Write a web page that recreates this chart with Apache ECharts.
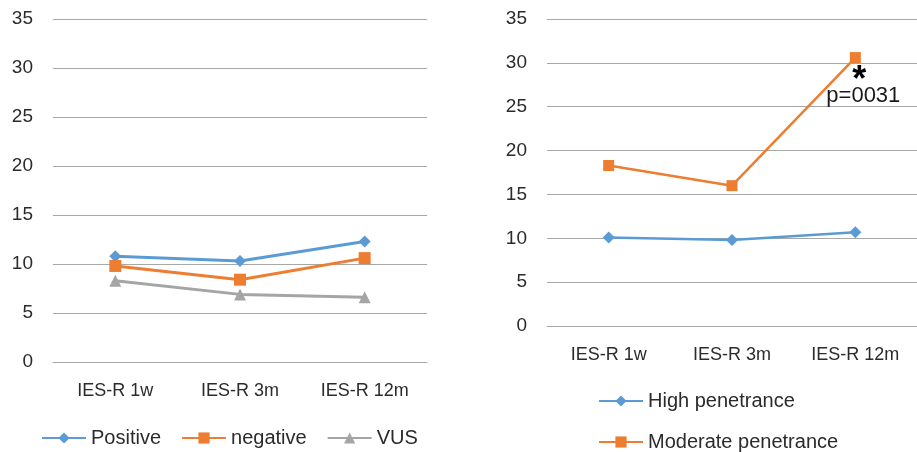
<!DOCTYPE html>
<html><head><meta charset="utf-8">
<script src="https://cdn.jsdelivr.net/npm/echarts@6/dist/echarts.min.js"></script>
<style>html,body{margin:0;padding:0;background:#fff}#c{width:917px;height:452px}</style>
</head><body><div id="c"></div>
<script>
const categories = ['IES-R 1w', 'IES-R 3m', 'IES-R 12m'];
const positive = [10.8, 10.3, 12.3];
const negative = [9.8, 8.4, 10.6];
const vus = [8.3, 6.9, 6.6];
const highPen = [10.1, 9.8, 10.7];
const moderatePen = [18.3, 16.0, 30.6];
const annotationText = 'p=0031';

const FONT = 'Liberation Sans, Arial, sans-serif';
const TXT = '#2b2b2b';
const GRID = '#a8a8a8';
const BLUE = '#5b9bd5', ORANGE = '#ed7d31', GRAY = '#a5a5a5';

function xAxis(i) {
  return {gridIndex: i, type: 'category', data: categories, boundaryGap: true,
    axisLine: {show: true, lineStyle: {color: GRID, width: 1}}, axisTick: {show: false},
    axisLabel: {color: TXT, fontFamily: FONT, fontSize: 18, margin: 20}};
}
function yAxis(i) {
  return {gridIndex: i, type: 'value', min: 0, max: 35, interval: 5,
    axisLine: {show: false}, axisTick: {show: false},
    splitLine: {lineStyle: {color: GRID, width: 1}},
    axisLabel: {color: TXT, fontFamily: FONT, fontSize: 19, margin: 20}};
}
function line(name, data, idx, color, symbol, size, width) {
  return {name, type: 'line', xAxisIndex: idx, yAxisIndex: idx, data,
    symbol, symbolSize: size, showSymbol: true,
    lineStyle: {color, width}, itemStyle: {color}, z: 3};
}

const modSeries = line('Moderate penetrance', moderatePen.map((v, i) => i === 2 ? {value: v, label: {show: true,
  position: 'bottom', distance: 2, offset: [4, 0], formatter: '{a|*}\n{b|' + annotationText + '}',
  rich: {a: {fontSize: 36, fontWeight: 'bold', color: '#000', fontFamily: FONT, lineHeight: 22, align: 'center', padding: [9, 0, 0, 0]},
         b: {fontSize: 22, color: '#1a1a1a', fontFamily: FONT, lineHeight: 18, align: 'center', padding: [0, 0, 0, 8]}}}} : v),
  1, ORANGE, 'rect', 11, 2.5);

const legendText = {color: TXT, fontFamily: FONT, fontSize: 20};
const option = {
  animation: false,
  backgroundColor: '#fff',
  textStyle: {fontFamily: FONT},
  grid: [
    {left: 53, right: 490, top: 19, bottom: 90},
    {left: 547, width: 374, top: 19, bottom: 126}
  ],
  xAxis: [xAxis(0), xAxis(1)],
  yAxis: [yAxis(0), yAxis(1)],
  legend: [
    {data: ['Positive', 'negative', 'VUS'], left: 41, top: 428, padding: 0, itemWidth: 44, itemHeight: 14, itemGap: 20,
      textStyle: legendText},
    {data: ['High penetrance', 'Moderate penetrance'], orient: 'vertical', left: 598, top: 391, height: 61, padding: 0,
      itemWidth: 44, itemHeight: 14, itemGap: 21, textStyle: legendText}
  ],
  series: [
    line('Positive', positive, 0, BLUE, 'diamond', 12, 3),
    line('negative', negative, 0, ORANGE, 'rect', 12, 3),
    line('VUS', vus, 0, GRAY, 'triangle', 12, 3),
    line('High penetrance', highPen, 1, BLUE, 'diamond', 12, 2.5),
    modSeries
  ]
};
const chart = echarts.init(document.getElementById('c'), null, {renderer: 'canvas'});
chart.setOption(option);
</script></body></html>
